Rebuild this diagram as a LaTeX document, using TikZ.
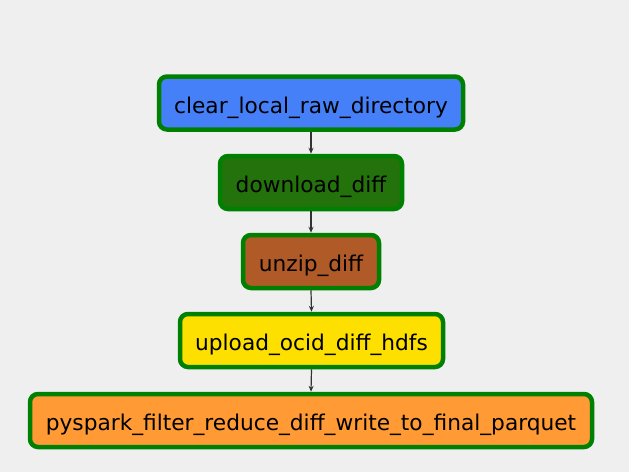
\documentclass[tikz,border=0pt]{standalone}
\usepackage{fontspec}
\setmainfont{DejaVu Sans}
\usetikzlibrary{arrows.meta}
\definecolor{bg}{RGB}{239,239,239}
\definecolor{bord}{RGB}{0,128,0}
\definecolor{cblue}{RGB}{70,128,248}
\definecolor{cgreen}{RGB}{36,114,12}
\definecolor{cbrown}{RGB}{176,90,40}
\definecolor{cyellow}{RGB}{253,224,0}
\definecolor{corange}{RGB}{255,154,53}
\definecolor{arrc}{RGB}{51,51,51}
\tikzset{
  task/.style={draw=bord, line width=4.5pt, rounded corners=8pt, minimum height=53pt,
    inner xsep=0pt, font=\fontsize{21.7}{25}\selectfont, text height=20.5pt, text depth=0pt, text=black},
  conn/.style={draw=arrc, line width=1.2pt, -{Stealth[length=6pt,width=5pt]}}
}
\begin{document}
\begin{tikzpicture}[x=1pt,y=-1pt]
\fill[bg] (0,0) rectangle (629,472);
\useasboundingbox (0,0) rectangle (629,472);
\node[task, fill=cblue, minimum width=304pt] (a) at (311,103) {clear\_local\_raw\_directory};
\node[task, fill=cgreen, minimum width=182pt] (b) at (311,182.5) {download\_diff};
\node[task, fill=cbrown, minimum width=136pt] (c) at (311,261.5) {unzip\_diff};
\node[task, fill=cyellow, minimum width=263pt] (d) at (311.5,340.5) {upload\_ocid\_diff\_hdfs};
\node[task, fill=corange, minimum width=562pt] (e) at (311,420.5) {pyspark\_filter\_reduce\_diff\_write\_to\_final\_parquet};
\draw[conn] (a.south) -- (b.north);
\draw[conn] (b.south) -- (c.north);
\draw[conn] (c.south) -- (d.north);
\draw[conn] (d.south) -- (e.north);
\end{tikzpicture}
\end{document}
